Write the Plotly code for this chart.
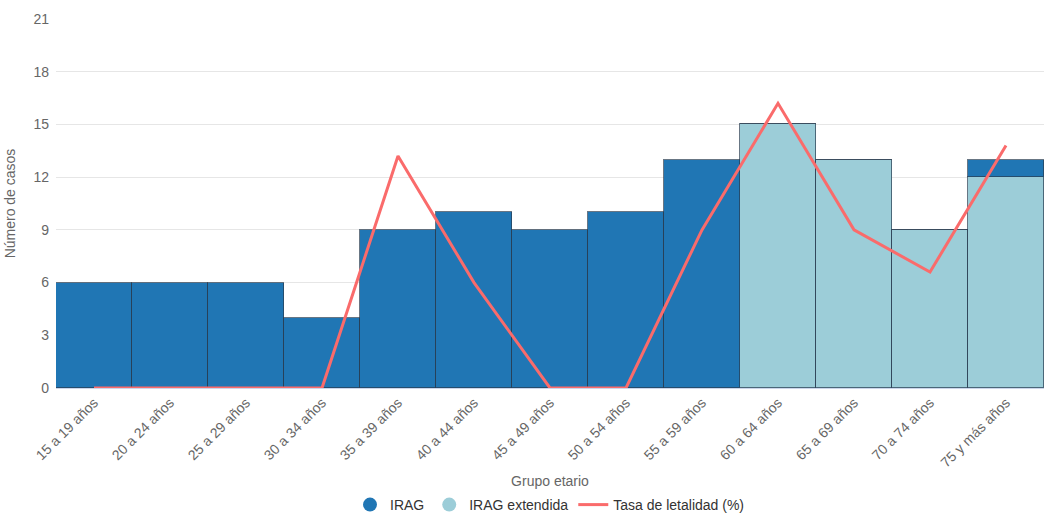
import plotly.graph_objects as go

# Datos por grupo etario
grupos = ["15 a 19 años", "20 a 24 años", "25 a 29 años", "30 a 34 años",
          "35 a 39 años", "40 a 44 años", "45 a 49 años", "50 a 54 años",
          "55 a 59 años", "60 a 64 años", "65 a 69 años", "70 a 74 años",
          "75 y más años"]
irag = [6, 6, 6, 4, 9, 10, 9, 10, 13, 0, 0, 0, 1]
irag_extendida = [0, 0, 0, 0, 0, 0, 0, 0, 0, 15, 13, 9, 12]
tasa_letalidad = [0, 0, 0, 0, 13.2, 6, 0, 0, 9, 16.2, 9, 6.6, 13.8]

c_irag = "#2076b4"
c_ext = "#9ccdd8"
c_tasa = "#fa6b6b"
borde = dict(color="rgba(40,60,80,0.7)", width=1)

fig = go.Figure()

# extendida first so IRAG stacks on top
fig.add_trace(go.Bar(x=grupos, y=irag_extendida, name="IRAG extendida",
                     marker=dict(color=c_ext, line=borde), showlegend=False))
fig.add_trace(go.Bar(x=grupos, y=irag, name="IRAG",
                     marker=dict(color=c_irag, line=borde), showlegend=False))
fig.add_trace(go.Scatter(x=grupos, y=tasa_letalidad, mode="lines",
                         name="Tasa de letalidad (%)",
                         line=dict(color=c_tasa, width=3), showlegend=False))

# legend entries (circles like the original)
fig.add_trace(go.Scatter(x=[None], y=[None], mode="markers", name="IRAG",
                         marker=dict(color=c_irag, size=14), legendrank=1))
fig.add_trace(go.Scatter(x=[None], y=[None], mode="markers", name="IRAG extendida",
                         marker=dict(color=c_ext, size=14), legendrank=2))
fig.add_trace(go.Scatter(x=[None], y=[None], mode="lines", name="Tasa de letalidad (%)",
                         line=dict(color=c_tasa, width=3), legendrank=3))

fig.update_layout(
    width=1044, height=521, autosize=False,
    barmode="stack", bargap=0,
    plot_bgcolor="white", paper_bgcolor="white",
    margin=dict(l=56, r=0, t=19, b=133),
    font=dict(family="Liberation Sans, Arial, sans-serif", color="#666666", size=14),
    showlegend=True,
    legend=dict(orientation="h", x=0.5, xanchor="center",
                yref="container", y=-0.012, yanchor="bottom",
                font=dict(size=14, color="#333333"), itemwidth=30,
                traceorder="normal", tracegroupgap=0),
    xaxis=dict(
        tickangle=-45, tickfont=dict(size=14, color="#666666"),
        title=dict(text="Grupo etario", font=dict(size=14, color="#666666"), standoff=19),
        showline=True, linecolor="#ccd6eb", linewidth=1,
        showgrid=False, ticks="", range=[-0.5, 12.5], automargin=False,
    ),
    yaxis=dict(
        range=[0, 21], tickvals=[0, 3, 6, 9, 12, 15, 18, 21],
        tickfont=dict(size=14, color="#666666"), ticklabelstandoff=6,
        title=dict(text="Número de casos", font=dict(size=14, color="#666666"), standoff=14),
        gridcolor="#e6e6e6", gridwidth=1, zeroline=False, showline=False,
        automargin=False,
    ),
)

fig.write_html("out.html", config={"responsive": False, "displayModeBar": False},
               post_script="document.body.style.margin='0';")
